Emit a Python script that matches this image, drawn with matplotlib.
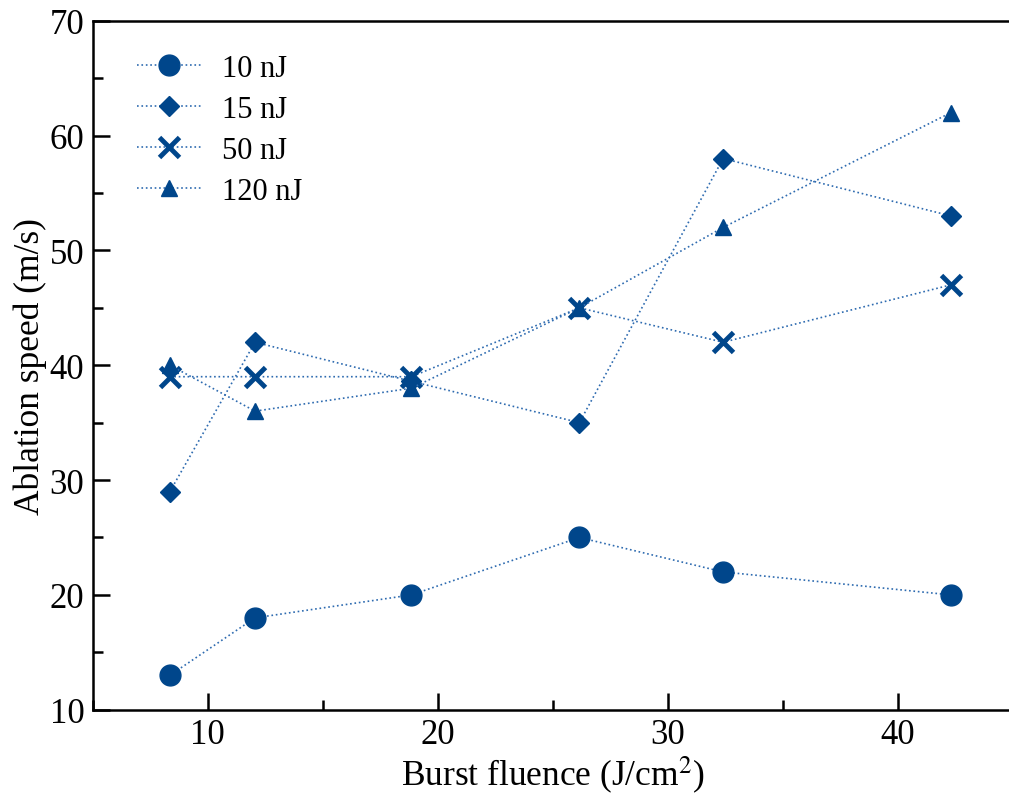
import matplotlib.pyplot as plt
from matplotlib.ticker import MultipleLocator

plt.rcParams['font.family'] = ['Liberation Serif', 'DejaVu Serif']
plt.rcParams['mathtext.fontset'] = 'stix'

fluence = [8.35, 12.05, 18.85, 26.15, 32.4, 42.3]
speed_10nJ = [13, 18, 20, 25, 22, 20]
speed_15nJ = [29, 42, 38.6, 35, 58, 53]
speed_50nJ = [39, 39, 39, 45, 42, 47]
speed_120nJ = [40, 36, 38, 45, 52, 62]
labels = ["10 nJ", "15 nJ", "50 nJ", "120 nJ"]

markerColor = "#00468b"
lineColor = "#2e6bb0"

fig = plt.figure(figsize=(10.09, 8.04), dpi=100)
# the right spine sits just past the figure edge in the original
ax = fig.add_axes([0.092, 0.116, 0.912, 0.857])

series = [speed_10nJ, speed_15nJ, speed_50nJ, speed_120nJ]
styles = [dict(marker="o", markersize=15),
          dict(marker="D", markersize=10),
          dict(marker="x", markersize=15, markeredgewidth=3.5),
          dict(marker="^", markersize=11)]
for ys, lab, st in zip(series, labels, styles):
    ax.plot(fluence, ys, linestyle=":", linewidth=1.2, color=lineColor,
            markerfacecolor=markerColor, markeredgecolor=markerColor,
            label=lab, **st)

ax.set_xlim(5, 45)
ax.set_ylim(10, 70)
ax.xaxis.set_major_locator(MultipleLocator(10))
ax.xaxis.set_minor_locator(MultipleLocator(5))
ax.yaxis.set_major_locator(MultipleLocator(10))
ax.yaxis.set_minor_locator(MultipleLocator(5))
ax.tick_params(which="both", direction="in", labelsize=25, width=1.8)
ax.tick_params(which="major", length=12, pad=6)
ax.tick_params(which="minor", length=7)
for sp in ax.spines.values():
    sp.set_linewidth(1.8)

ax.set_xlabel("Burst fluence (J/cm$^2$)", fontsize=25.5, labelpad=2)
ax.set_ylabel("Ablation speed (m/s)", fontsize=25.5, labelpad=2)

ax.legend(loc="upper left", bbox_to_anchor=(0.008, 1.005), frameon=False,
          fontsize=22, handlelength=2.1, labelspacing=0.39,
          borderaxespad=0.8, handletextpad=0.7)

fig.savefig("out.png", dpi=100)
